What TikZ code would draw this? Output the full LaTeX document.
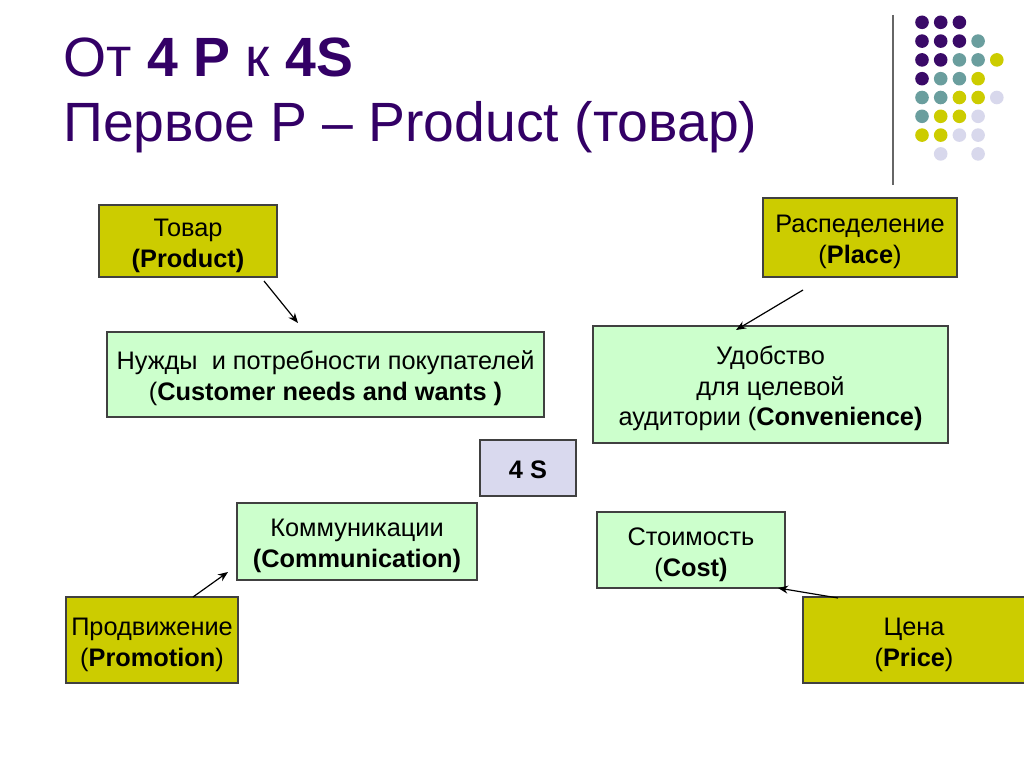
\documentclass[tikz,border=0pt]{standalone}
\usepackage{fontspec}
\setmainfont{Liberation Sans}
\usetikzlibrary{arrows.meta}
\definecolor{ttl}{HTML}{330066}
\definecolor{dP}{HTML}{3A0A68}
\definecolor{dT}{HTML}{6A9E9E}
\definecolor{dY}{HTML}{CCCC00}
\definecolor{dL}{HTML}{D8D8EC}
\definecolor{yfill}{HTML}{CCCC00}
\definecolor{gfill}{HTML}{CCFFCC}
\definecolor{lfill}{HTML}{D9D9EE}
\newcommand\fstrut{\rule{0pt}{20.5pt}}
\newcommand\lstrut{\rule[-4.5pt]{0pt}{4.5pt}}
\begin{document}
\begin{tikzpicture}[x=0.75pt,y=-0.75pt,
  bx/.style 2 args={draw=black!75, line width=0.8pt, inner sep=0pt,
    minimum width={#1*0.75pt}, minimum height={#2*0.75pt},
    align=center, font=\fontsize{19}{23}\selectfont},
  ybox/.style 2 args={bx={#1}{#2}, fill=yfill},
  gbox/.style 2 args={bx={#1}{#2}, fill=gfill},
  lbox/.style 2 args={bx={#1}{#2}, fill=lfill},
  arr/.style={-{Stealth[length=7.5pt,width=6pt]}, line width=0.9pt, black},
  ttlfont/.style={anchor=base west, text=ttl, inner sep=0pt, font=\fontsize{41.5}{48}\selectfont}
]
\path[fill=white, use as bounding box] (0,0) rectangle (1024,767);

% title
\node[ttlfont] (t1) at (63,77) {От \textbf{4 Р} к \textbf{4S}};
\node[ttlfont] (t2) at (63,142) {Первое Р – Product (товар)};

% decoration
\draw[black!60, line width=1.2pt] (893,15) -- (893,185);
\foreach \c/\r/\col in {1/1/dP,2/1/dP,3/1/dP,
  1/2/dP,2/2/dP,3/2/dP,4/2/dT,
  1/3/dP,2/3/dP,3/3/dT,4/3/dT,5/3/dY,
  1/4/dP,2/4/dT,3/4/dT,4/4/dY,
  1/5/dT,2/5/dT,3/5/dY,4/5/dY,5/5/dL,
  1/6/dT,2/6/dY,3/6/dY,4/6/dL,
  1/7/dY,2/7/dY,3/7/dL,4/7/dL,
  2/8/dL,4/8/dL}
  \fill[\col] ({922+18.7*(\c-1)},{22.3+18.8*(\r-1)}) circle[radius=5.1pt];

% boxes
\node[ybox={178}{72}] (product) at (188,241) {\fstrut Товар\\\textbf{(Product)}\lstrut};
\node[gbox={437}{85}] (needs) at (325.5,374.5) {\fstrut Нужды\ \ и потребности покупателей\\(\textbf{Customer needs and wants )}\lstrut};
\node[ybox={194}{79}] (place) at (860,237.5) {\fstrut Распеделение\\(\textbf{Place})\lstrut};
\node[gbox={355}{117}] (conv) at (770.5,384.5) {\fstrut Удобство\\для целевой\\аудитории (\textbf{Convenience)}\lstrut};
\node[lbox={96}{56}] (fours) at (528,468) {\fstrut\textbf{4 S}\lstrut};
\node[gbox={240}{77}] (comm) at (357,541.5) {\fstrut Коммуникации\\\textbf{(Communication)}\lstrut};
\node[gbox={188}{76}] (cost) at (691,550) {\fstrut Стоимость\\(\textbf{Cost)}\lstrut};
\node[ybox={172}{86}] (promo) at (152,640) {\fstrut Продвижение\\(\textbf{Promotion})\lstrut};
\node[ybox={222}{86}] (price) at (914,640) {\fstrut Цена\\(\textbf{Price})\lstrut};

% connectors
\coordinate (a1s) at (264,281); \coordinate (a1e) at (298,323);
\coordinate (a2s) at (803,290); \coordinate (a2e) at (736,330);
\coordinate (a3s) at (193,597); \coordinate (a3e) at (228,572);
\coordinate (a4s) at (838,598); \coordinate (a4e) at (778,588);
\draw[arr] (a1s) -- (a1e);
\draw[arr] (a2s) -- (a2e);
\draw[arr] (a3s) -- (a3e);
\draw[arr] (a4s) -- (a4e);
\end{tikzpicture}
\end{document}
